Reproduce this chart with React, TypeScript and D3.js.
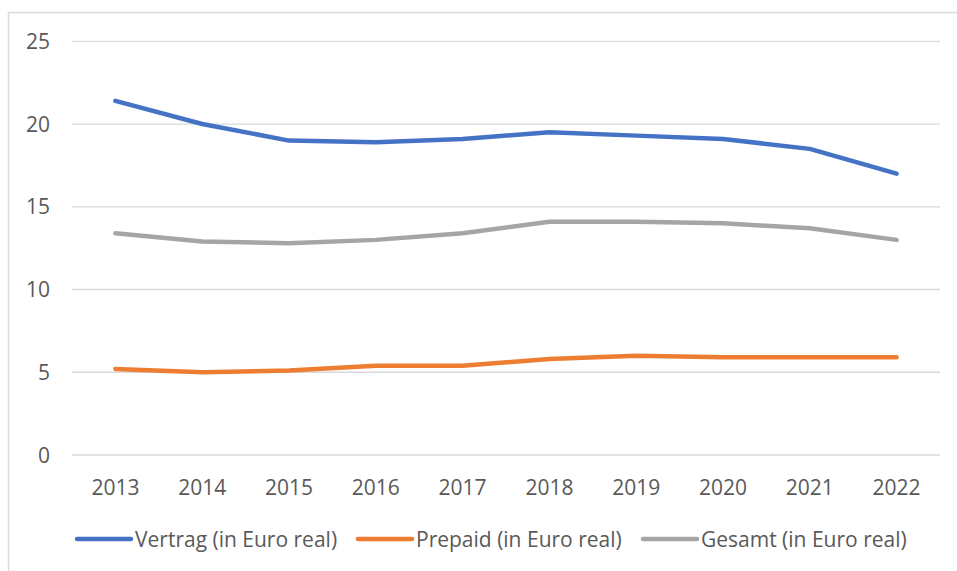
import React from "react";
import * as d3 from "d3";

const years = ["2013", "2014", "2015", "2016", "2017", "2018", "2019", "2020", "2021", "2022"];
const vertrag = [21.4, 20.0, 19.0, 18.9, 19.1, 19.5, 19.3, 19.1, 18.5, 17.0];
const prepaid = [5.2, 5.0, 5.1, 5.4, 5.4, 5.8, 6.0, 5.9, 5.9, 5.9];
const gesamt = [13.4, 12.9, 12.8, 13.0, 13.4, 14.1, 14.1, 14.0, 13.7, 13.0];
const yTicks = [0, 5, 10, 15, 20, 25];
const seriesNames = ["Vertrag (in Euro real)", "Prepaid (in Euro real)", "Gesamt (in Euro real)"];
const seriesColors = ["#4472C4", "#ED7D31", "#A5A5A5"];

const W = 957;
const H = 571;
const FONT = "'Open Sans', Lato, sans-serif";

export default function App() {
  const x = d3.scalePoint<string>().domain(years).range([72, 940]).padding(0.5);
  const y = d3.scaleLinear().domain([0, 25]).range([455, 41.3]);
  const line = d3
    .line<number>()
    .x((_, i) => x(years[i]) as number)
    .y((d) => y(d));
  const data = [vertrag, prepaid, gesamt];
  const legendX = [77, 358, 643];

  return (
    <svg
      width={W}
      height={H}
      style={{ position: "absolute", left: 0, top: 0, background: "#fff" }}
      fontFamily={FONT}
    >
      <rect x={8.5} y={12.5} width={W + 10} height={H + 10} fill="#fff" stroke="#d9d9d9" strokeWidth={1.5} />
      {yTicks.map((t) => (
        <g key={t}>
          <line x1={72} x2={940} y1={y(t)} y2={y(t)} stroke="#d9d9d9" strokeWidth={1.3} />
          <text x={50} y={y(t)} dy="0.36em" textAnchor="end" fontSize={21} fill="#595959">
            {t}
          </text>
        </g>
      ))}
      {years.map((yr) => (
        <text key={yr} x={x(yr)} y={495} textAnchor="middle" fontSize={21} fill="#595959">
          {yr}
        </text>
      ))}
      {data.map((d, i) => (
        <path
          key={i}
          d={line(d) || ""}
          fill="none"
          stroke={seriesColors[i]}
          strokeWidth={4.5}
          strokeLinecap="round"
          strokeLinejoin="round"
        />
      ))}
      {seriesNames.map((name, i) => (
        <g key={name}>
          <line
            x1={legendX[i]}
            x2={legendX[i] + 54}
            y1={539}
            y2={539}
            stroke={seriesColors[i]}
            strokeWidth={4.5}
            strokeLinecap="round"
          />
          <text x={legendX[i] + 58} y={546.5} fontSize={21} fill="#595959">
            {name}
          </text>
        </g>
      ))}
    </svg>
  );
}
